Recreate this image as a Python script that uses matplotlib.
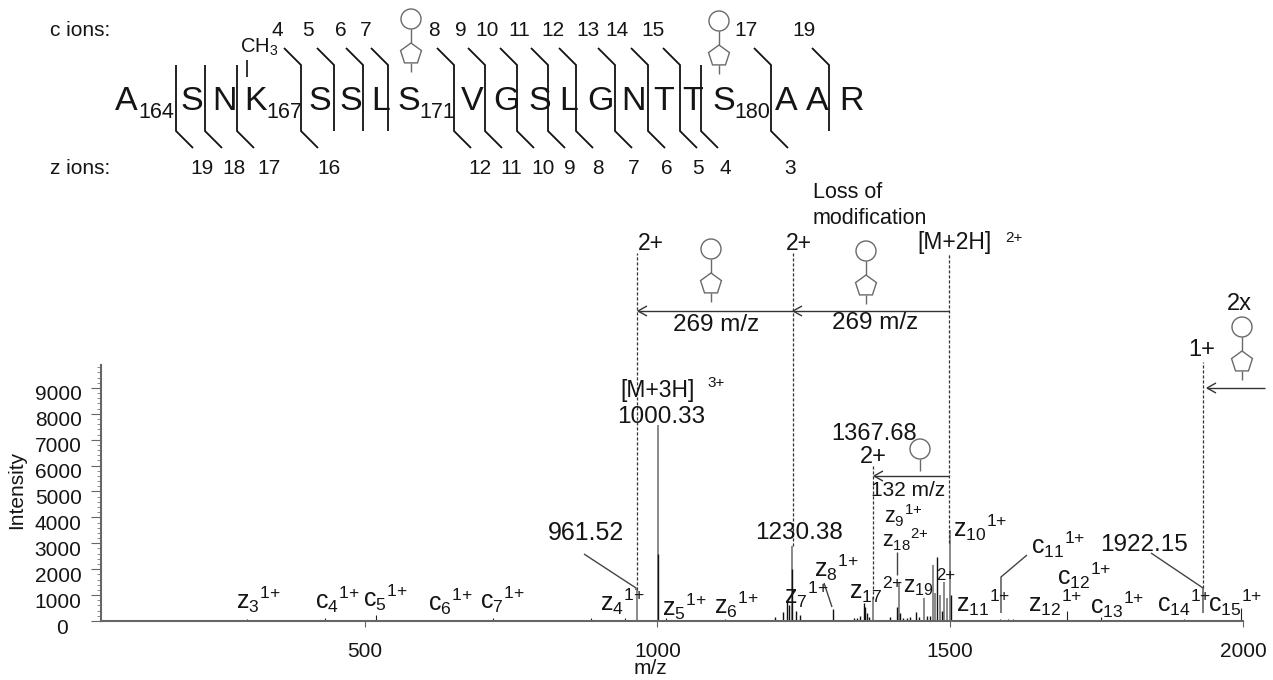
import numpy as np
import matplotlib
matplotlib.use('Agg')
from matplotlib import pyplot as plt
from matplotlib.patches import Circle, Polygon
from matplotlib.transforms import ScaledTranslation

plt.rcParams['font.family'] = ['Liberation Sans', 'DejaVu Sans']
plt.rcParams['mathtext.fontset'] = 'custom'
plt.rcParams['mathtext.rm'] = 'Liberation Sans'

# spectrum
tall_mz = [966, 1000.33, 1230.38, 1368, 1412, 1456, 1470, 1474, 1482, 1490, 1494, 1499]
tall_int = [1200, 7570, 2900, 920, 1450, 880, 2150, 1080, 1000, 1520, 900, 3500]
dark_mz = [1000.33, 1201, 1215, 1221, 1225, 1230.38, 1237, 1244, 1300, 1335, 1341, 1346,
           1352, 1355, 1358, 1361, 1398, 1409, 1414, 1420, 1426, 1432, 1441, 1446, 1460,
           1465, 1478, 1486, 1501]
dark_int = [2600, 150, 350, 800, 600, 2000, 400, 250, 450, 100, 100, 200,
            680, 550, 300, 150, 150, 550, 300, 120, 120, 150, 350, 150, 200,
            200, 2470, 400, 1000]
small_mz = [100, 200, 300, 345, 400, 433, 520, 550, 603, 687, 702, 720, 800, 886, 900, 927,
            944, 1015, 1056, 1068, 1077, 1099, 1116, 1534, 1543, 1557, 1568, 1585, 1599,
            1608, 1642, 1657, 1671, 1683, 1700, 1744, 1757, 1800, 1841, 1858, 1872, 1887,
            1899, 1923, 1941, 1955, 1972, 1983, 1997]
small_int = [40, 40, 60, 30, 40, 100, 250, 30, 30, 30, 30, 120, 30, 120, 40, 40,
             130, 100, 40, 40, 40, 40, 60, 40, 40, 50, 40, 60, 60,
             60, 30, 30, 40, 40, 400, 40, 150, 40, 30, 40, 40, 50,
             60, 30, 40, 30, 40, 40, 500]

y_ticks = [0, 1000, 2000, 3000, 4000, 5000, 6000, 7000, 8000, 9000]
x_ticks = [500, 1000, 1500, 2000]

# dashed guides above the assigned peaks
guide_mz = [966, 1231, 1367.68, 1497.5, 1932]
guide_lo = [1200, 2900, 850, 3000, 1290]
guide_hi = [14200, 14200, 6000, 14200, 10000]

# peptide
residues = ['A', 'S', 'N', 'K', 'S', 'S', 'L', 'S', 'V', 'G', 'S', 'L', 'G', 'N', 'T', 'T', 'S', 'A', 'A', 'R']
res_numbers = ['164', '167', '171', '180']
c_numbers = ['4', '5', '6', '7', '8', '9', '10', '11', '12', '13', '14', '15', '17', '19']
z_numbers = ['19', '18', '17', '16', '12', '11', '10', '9', '8', '7', '6', '5', '4', '3']

ion_labels = ['z_{3}', 'c_{4}', 'c_{5}', 'c_{6}', 'c_{7}', 'z_{4}', 'z_{5}', 'z_{6}', 'z_{7}', 'z_{8}',
              'z_{17}', 'z_{9}', 'z_{18}', 'z_{19}', 'z_{10}', 'z_{11}', 'z_{12}', 'c_{11}', 'c_{12}',
              'c_{13}', 'c_{14}', 'c_{15}']
ion_charges = ['1', '1', '1', '1', '1', '1', '1', '1', '1', '1',
               '2', '1', '2', '2', '1', '1', '1', '1', '1', '1', '1', '1']

INK = '#151515'
GREY = '#6a6a6a'

fig = plt.figure(figsize=(12.73, 6.80), dpi=100)

# main axes, set so that m/z 50-2000 falls on px 101-1243
L, R, T, B = 101, 1243, 365, 621
ax = fig.add_axes([L / 1273, 1 - B / 680, (R - L) / 1273, (B - T) / 680])
ax.set_xlim(50, 2000)
ax.set_ylim(0, 9884)
ax.patch.set_alpha(0)
for s in ['top', 'right']:
    ax.spines[s].set_visible(False)
for s in ['left', 'bottom']:
    ax.spines[s].set_color('#666666')
    ax.spines[s].set_linewidth(1.5)

ax.vlines(tall_mz, 0, tall_int, color='#777777', lw=1.2)
ax.vlines(dark_mz, 0, dark_int, color='#111111', lw=1.0)
ax.vlines(small_mz, 0, small_int, color='#222222', lw=0.8)
ax.vlines(guide_mz, guide_lo, guide_hi, color='#333333', lw=0.9, linestyles=(0, (2.5, 1.5)), clip_on=False)

ax.set_xticks(x_ticks)
ax.set_yticks(y_ticks)
ax.set_yticks(np.arange(0, 9801, 200), minor=True)
ax.tick_params(axis='x', length=4, color='#666666', labelsize=15, pad=11, labelcolor=INK)
ax.tick_params(axis='y', length=7, color='#666666', labelsize=15, pad=7, labelcolor=INK)
ax.tick_params(axis='y', which='minor', length=3, color='#777777')
for lab in ax.get_yticklabels():
    dx = -14 if lab.get_text() == '0' else 0
    lab.set_transform(lab.get_transform() + ScaledTranslation(dx / 100, -5 / 100, fig.dpi_scale_trans))
ax.set_xlabel('m/z', fontsize=15, color=INK)
ax.xaxis.set_label_coords((650 - L) / (R - L), (B - 669) / (B - T), transform=ax.transAxes)
ax.xaxis.label.set_va('center')
ax.set_ylabel('Intensity', fontsize=15, color=INK)
ax.yaxis.set_label_coords((17 - L) / (R - L), (B - 490) / (B - T), transform=ax.transAxes)
ax.yaxis.label.set_va('center')

# overlay in picture pixels for the annotations
ov = fig.add_axes([0, 0, 1, 1])
ov.set_xlim(0, 1273)
ov.set_ylim(680, 0)
ov.axis('off')
ov.patch.set_alpha(0)


def txt(x, y, s, size=15, ha='left', color=INK):
    ov.text(x, y, s, fontsize=size, ha=ha, va='center', color=color)


def line(xs, ys, color=INK, lw=1.0):
    ov.plot(xs, ys, color=color, lw=lw, solid_capstyle='butt', solid_joinstyle='miter')


def sugar(cx, cy, full=True):
    ov.add_patch(Circle((cx, cy), 10, fill=False, ec=GREY, lw=1.0))
    if not full:
        line([cx, cx], [cy + 10, cy + 22], GREY)
        return
    line([cx, cx], [cy + 10, cy + 24], GREY)
    ang = np.deg2rad(np.arange(5) * 72 - 90)
    pts = np.c_[cx + 11 * np.cos(ang), cy + 35 + 11 * np.sin(ang)]
    ov.add_patch(Polygon(pts, closed=True, fill=False, ec=GREY, lw=1.0))
    line([cx, cx], [cy + 44, cy + 53], GREY)


def head(x, y):
    line([x + 9, x, x + 9], [y - 5, y, y + 5], '#333333')


def arrow(x0, x1, y):
    line([x0, x1], [y, y], '#333333')
    head(x1, y)


# sequence
txt(50, 30, 'c ions:', 15)
txt(50, 169, 'z ions:', 15)

res_x = [115, 180, 212, 244, 308, 339, 371, 397, 461, 493, 528, 559, 587, 621, 653, 682, 712, 775, 806, 839]
for x, r in zip(res_x, residues):
    ov.text(x, 110, r, fontsize=24.5, ha='left', va='baseline', color=INK)
for x, n in zip([138, 266, 419, 734], res_numbers):
    ov.text(x, 118, n, fontsize=15.5, ha='left', va='baseline', color=INK)
ov.text(240, 53, r'$\mathregular{CH_{3}}$', fontsize=14.5, ha='left', va='baseline', color=INK)
line([247, 247], [60, 77], '#222222', 1.3)

c_x = [277, 308, 341, 366, 434, 461, 487, 519, 553, 588, 617, 653, 746, 804]
for x, n in zip(c_x, c_numbers):
    txt(x, 30, n, 15, ha='center')
z_x = [202, 234, 269, 329, 480, 511, 543, 570, 598, 634, 667, 698, 725, 790]
for x, n in zip(z_x, z_numbers):
    txt(x, 168, n, 15, ha='center')

# cleavage brackets: x, c tail, z tail
cuts = [(176, 0, 1), (205, 0, 1), (237, 0, 1), (301, 1, 1), (334, 1, 0), (363, 1, 0), (388, 1, 0),
        (454, 1, 1), (485, 1, 1), (517, 1, 1), (548, 1, 1), (576, 1, 1), (615, 1, 1), (648, 1, 1),
        (680, 1, 1), (701, 0, 1), (771, 1, 1), (829, 1, 0)]
for x, has_c, has_z in cuts:
    xs, ys = [x, x], [65, 131]
    if has_c:
        xs = [x - 17] + xs
        ys = [48] + ys
    if has_z:
        xs = xs + [x + 17]
        ys = ys + [148]
    line(xs, ys, '#111111', 1.3)

sugar(411, 19)
sugar(719, 21)

# mass shift annotations
txt(813, 193, 'Loss of', 15.5)
txt(813, 218, 'modification', 15.5)
txt(638, 243, '2+', 16.5)
txt(786, 243, '2+', 16.5)
txt(917, 243, '[M+2H]', 16.5)
txt(1005, 238, '2+', 11)
sugar(711, 249)
sugar(866, 251)
line([949, 638], [311, 311], '#333333')
head(638, 311)
head(793, 311)
txt(673, 325, '269 m/z', 17.5)
txt(832, 323, '269 m/z', 17.5)

txt(1227, 304, '2x', 17)
txt(1188, 350, '1+', 17)
sugar(1242, 327)
arrow(1265, 1207, 388)

txt(620, 390, '[M+3H]', 16.5)
txt(707, 383, '3+', 11)
txt(617, 417, '1000.33', 17.5)
txt(548, 533, '961.52', 18)
line([584, 636, 636], [554, 588, 590], '#444444')
txt(755, 533, '1230.38', 17.5)
txt(831, 434, '1367.68', 17)
txt(860, 457, '2+', 17)
sugar(920, 449, full=False)
arrow(949, 874, 476)
txt(871, 491, '132 m/z', 15)
txt(1100, 545, '1922.15', 17.5)
line([1151, 1203, 1203], [553, 588, 613], '#444444')
line([1027, 1001, 1001], [555, 577, 613], '#444444')
line([824, 832], [583, 607], '#444444')
line([897, 897], [552, 575], '#444444')

ion_x = [236, 315, 363, 428, 480, 600, 662, 714, 784, 814, 849, 884, 882, 903, 953, 956, 1028, 1031, 1057, 1090, 1157, 1208]
ion_y = [600, 600, 598, 602, 600, 602, 607, 605, 595, 568, 590, 516, 540, 587, 528, 603, 603, 545, 576, 605, 603, 603]
ion_size = {'z_{9}': 15.5, 'z_{18}': 15.5, 'z_{19}': 16.5}
for x, y, lab, ch in zip(ion_x, ion_y, ion_labels, ion_charges):
    if lab == 'z_{19}':
        txt(x, y, r'$\mathregular{%s}$' % lab, ion_size[lab])
        txt(936, 576, ch + '+', 12)
        continue
    txt(x, y, r'$\mathregular{%s{}^{%s{+}}}$' % (lab, ch), ion_size.get(lab, 18))

fig.savefig('out.png', dpi=100)
